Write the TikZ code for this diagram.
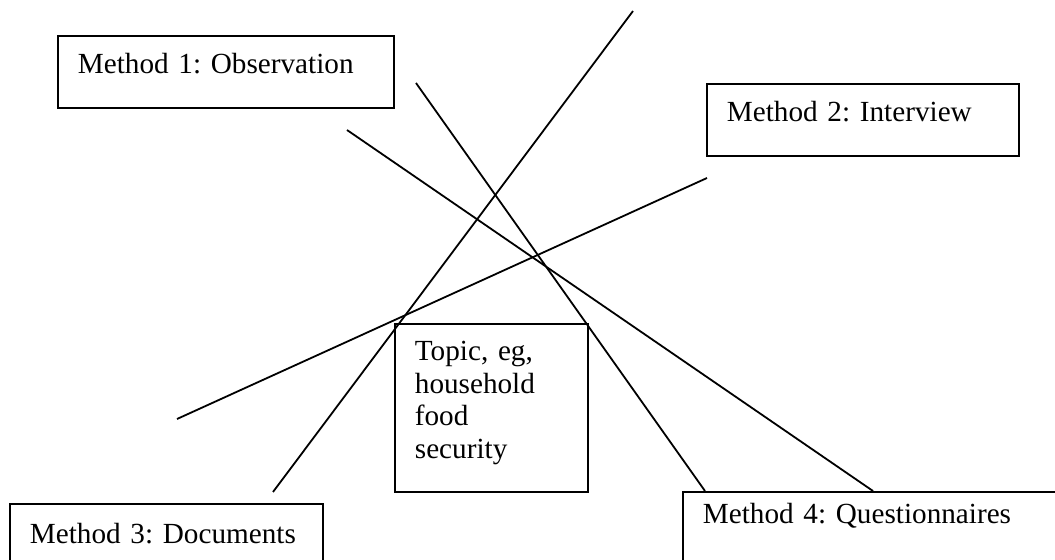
\documentclass[tikz,border=0pt]{standalone}
\usepackage{fontspec}
\setmainfont{Liberation Serif}
\begin{document}
\begin{tikzpicture}[
    x=0.5pt, y=-0.5pt,
    box/.style={rectangle, draw, line width=0.9pt, anchor=north west, inner xsep=10pt, inner ysep=0pt, align=left, font=\fontsize{14.6}{16.25}\selectfont\frenchspacing},
    link/.style={line width=0.9pt}
]
    \clip (0,0) rectangle (1055,560);

    % Metodi
    \node[box, text width=148pt, text height=19pt, text depth=17pt] (obs) at (57,35) {Method 1: Observation};
    \node[box, text width=136pt, text height=19pt, text depth=17pt] (intv) at (706,83) {Method 2: Interview};
    \node[box, text width=136.5pt, text height=20pt, text depth=20pt] (docs) at (9,503) {Method 3: Documents};
    \node[box, text width=174pt, text height=16pt, text depth=24pt] (quest) at (682,491) {Method 4: Questionnaires};

    % Tema
    \node[box, text width=76.5pt, text height=18.5pt, text depth=65.5pt] (topic) at (394,323) {Topic, eg,\\household\\food\\security};

    % Linee
    \coordinate (a1) at (633,11);
    \coordinate (a2) at (273,492);
    \coordinate (b1) at (416,83);
    \coordinate (b2) at (705,491);
    \coordinate (c1) at (347,130);
    \coordinate (c2) at (873,491);
    \coordinate (d1) at (177,419);
    \coordinate (d2) at (707,178);

    \draw[link] (a1) -- (a2);
    \draw[link] (b1) -- (b2);
    \draw[link] (c1) -- (c2);
    \draw[link] (d1) -- (d2);
\end{tikzpicture}
\end{document}
